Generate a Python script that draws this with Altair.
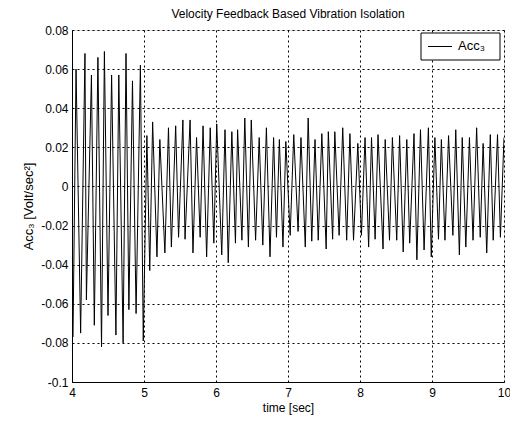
import altair as alt
import pandas as pd

# Local maxima of the measured signal (time [s], value [Volt/sec^2])
peak_t = [4.056, 4.18, 4.27, 4.36, 4.45, 4.55, 4.65, 4.75, 4.84, 4.95,
          5.04, 5.12, 5.22, 5.34, 5.44, 5.54, 5.64, 5.73, 5.82, 5.92, 6.01,
          6.125, 6.22, 6.30, 6.40, 6.49, 6.60, 6.70, 6.80, 6.88, 6.97,
          7.08, 7.18, 7.28, 7.375, 7.47, 7.56, 7.65, 7.76, 7.86, 7.97,
          8.07, 8.16, 8.25, 8.35, 8.45, 8.55, 8.65, 8.75, 8.84, 8.95,
          9.04, 9.13, 9.23, 9.33, 9.42, 9.52, 9.62, 9.71, 9.81, 9.91, 10.0]
peak_v = [0.060, 0.068, 0.057, 0.066, 0.069, 0.057, 0.057, 0.068, 0.054, 0.062,
          0.026, 0.033, 0.024, 0.030, 0.031, 0.034, 0.034, 0.025, 0.031, 0.030, 0.032,
          0.029, 0.028, 0.029, 0.035, 0.034, 0.025, 0.030, 0.025, 0.024, 0.023,
          0.0265, 0.025, 0.035, 0.024, 0.027, 0.028, 0.028, 0.030, 0.027, 0.022,
          0.025, 0.025, 0.0265, 0.024, 0.025, 0.026, 0.024, 0.027, 0.029, 0.030,
          0.025, 0.024, 0.026, 0.029, 0.025, 0.025, 0.030, 0.022, 0.0265, 0.0265, 0.025]

# Local minima of the measured signal
trough_t = [4.014, 4.12, 4.20, 4.31, 4.41, 4.50, 4.61, 4.71, 4.79, 4.89, 4.99,
            5.08, 5.18, 5.29, 5.38, 5.48, 5.57, 5.68, 5.78, 5.87, 5.97,
            6.08, 6.17, 6.27, 6.36, 6.45, 6.55, 6.65, 6.75, 6.84, 6.93,
            7.03, 7.14, 7.24, 7.33, 7.42, 7.53, 7.62, 7.71, 7.815, 7.91, 8.02,
            8.12, 8.21, 8.32, 8.41, 8.51, 8.60, 8.69, 8.79, 8.89, 8.99,
            9.09, 9.18, 9.29, 9.38, 9.47, 9.57, 9.67, 9.76, 9.85, 9.95]
trough_v = [-0.077, -0.075, -0.058, -0.071, -0.082, -0.066, -0.076, -0.080, -0.063, -0.065, -0.079,
            -0.043, -0.036, -0.034, -0.031, -0.026, -0.027, -0.034, -0.026, -0.036, -0.029,
            -0.035, -0.039, -0.029, -0.0275, -0.031, -0.0275, -0.030, -0.036, -0.026, -0.031,
            -0.025, -0.023, -0.031, -0.028, -0.0275, -0.032, -0.027, -0.025, -0.0275, -0.0275, -0.025,
            -0.031, -0.027, -0.032, -0.0275, -0.0275, -0.0335, -0.029, -0.0375, -0.0325, -0.036,
            -0.027, -0.0275, -0.025, -0.035, -0.031, -0.0275, -0.026, -0.034, -0.0275, -0.026]

x_ticks = [4, 5, 6, 7, 8, 9, 10]
y_ticks = [-0.1, -0.08, -0.06, -0.04, -0.02, 0, 0.02, 0.04, 0.06, 0.08]

title_text = "Velocity Feedback Based Vibration Isolation"
x_title = "time [sec]"
y_title = "Acc₃ [Volt/sec²]"
legend_label = "Acc₃"

df = pd.DataFrame({"t": peak_t + trough_t, "v": peak_v + trough_v}).sort_values("t")

FONT = "Liberation Sans"

line = alt.Chart(df).mark_line(color="black", strokeWidth=1, clip=True).encode(
    x=alt.X("t:Q",
            scale=alt.Scale(domain=[4, 10], nice=False, zero=False),
            axis=alt.Axis(values=x_ticks, title=x_title, format="d",
                          grid=True, gridColor="black", gridDash=[2, 3], gridOpacity=1,
                          gridWidth=1, domainColor="black", ticks=False,
                          labelColor="black", labelFontSize=12, labelFont=FONT,
                          labelPadding=5, titleFont=FONT, titleFontSize=12,
                          titleFontWeight="normal", titleColor="black", titlePadding=4,
                          labelFlush=False)),
    y=alt.Y("v:Q",
            scale=alt.Scale(domain=[-0.1, 0.08], nice=False, zero=False),
            axis=alt.Axis(values=y_ticks, title=y_title,
                          labelExpr="replace(format(datum.value, '.2~f'), '−', '-')",
                          grid=True, gridColor="black", gridDash=[2, 3], gridOpacity=1,
                          gridWidth=1, domainColor="black", ticks=False,
                          labelColor="black", labelFontSize=12, labelFont=FONT,
                          labelPadding=4, titleFont=FONT, titleFontSize=13,
                          titleFontWeight="normal", titleColor="black", titlePadding=5,
                          labelFlush=False)),
)

one = pd.DataFrame({"k": [0]})

legend_box = alt.Chart(one).mark_rect(fill="white", stroke="black", strokeWidth=1).encode(
    x=alt.value(349), x2=alt.value(428), y=alt.value(3), y2=alt.value(30))
legend_line = alt.Chart(one).mark_rule(color="black", strokeWidth=1).encode(
    x=alt.value(356), x2=alt.value(380), y=alt.value(16.5))
legend_text = alt.Chart(one).mark_text(align="left", baseline="middle", fontSize=13,
                                       font=FONT, color="black").encode(
    x=alt.value(386), y=alt.value(16), text=alt.value(legend_label))

chart = alt.layer(line, legend_box, legend_line, legend_text).properties(
    width=432, height=352,
    title=alt.TitleParams(title_text, font=FONT, fontSize=12, fontWeight="normal",
                          color="black", offset=3),
    autosize=alt.AutoSizeParams(type="none"),
    padding={"left": 72, "top": 30, "right": 6, "bottom": 39},
).configure_view(stroke="black", strokeWidth=1).configure(background="white")

chart.save("out.html", embed_options={"renderer": "svg", "actions": False})
